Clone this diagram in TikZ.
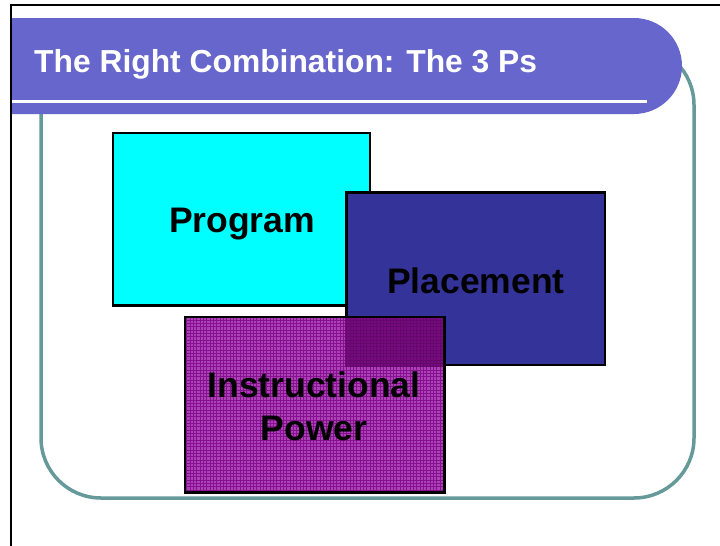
\documentclass[tikz,border=0pt]{standalone}
\usepackage{fontspec}
\setmainfont{Liberation Sans}
\definecolor{barcol}{HTML}{6666CC}
\definecolor{framecol}{HTML}{669999}
\definecolor{progcol}{HTML}{00FFFF}
\definecolor{placecol}{HTML}{333399}
\definecolor{magcell}{HTML}{AA44B4}
\definecolor{magline}{HTML}{880E92}
\definecolor{magdark}{HTML}{780A80}
\definecolor{maglinedark}{HTML}{65086C}
\begin{document}
\begin{tikzpicture}[x=1pt,y=-1pt,
  box/.style={inner sep=0pt, line width=2.5pt},
  boxtext/.style={anchor=base, font=\bfseries\fontsize{35.5}{43}\selectfont, text=black, inner sep=0pt},
  titletext/.style={anchor=base west, font=\bfseries\fontsize{31.8}{38}\selectfont, text=white, inner sep=0pt}]
\useasboundingbox (0,0) rectangle (720,546);
\fill[white] (0,0) rectangle (720,546);
% page border lines
\draw[black, line width=2pt] (11,546) -- (11,5) -- (720,5);
% teal frame
\draw[framecol, line width=3.5pt, rounded corners=60pt] (41,45) rectangle (694,498);
% title bar
\fill[barcol] (12,18) [rounded corners=48pt] -- (682,18) -- (682,114) [sharp corners] -- (12,114) -- cycle;
\draw[white, line width=3pt] (12,101.5) -- (647,101.5);
\node[titletext] (title) at (34,72) {The Right Combination: The 3 Ps};
% boxes
\node[box, draw=black, fill=progcol, minimum width=257pt, minimum height=172.5pt] (prog) at (241.5,219.25) {};
\node[box, draw=black, fill=placecol, minimum width=258.5pt, minimum height=172.5pt] (place) at (475.75,278.75) {};
\node[box, fill=magcell, minimum width=257pt, minimum height=173pt] (instr) at (314.5,404.5) {};
\fill[magdark] (place.west |- instr.north) rectangle (instr.east |- place.south);
\begin{scope}
  \clip (instr.south west) rectangle (instr.north east);
  \draw[magline, line width=0.8pt, step=3.333pt] (instr.south west) grid (instr.north east);
  \clip (place.west |- instr.north) rectangle (instr.east |- place.south);
  \draw[maglinedark, line width=0.8pt, step=3.333pt] (instr.south west) grid (instr.north east);
\end{scope}
\draw[black, line width=2.5pt] (instr.south west) rectangle (instr.north east);
% texts
\node[boxtext] (progt) at (242,232) {Program};
\node[boxtext] (placet) at (476,293) {Placement};
\node[boxtext] (instrt) at (314,397) {Instructional};
\node[boxtext] (powert) at (314,440) {Power};
\end{tikzpicture}
\end{document}
